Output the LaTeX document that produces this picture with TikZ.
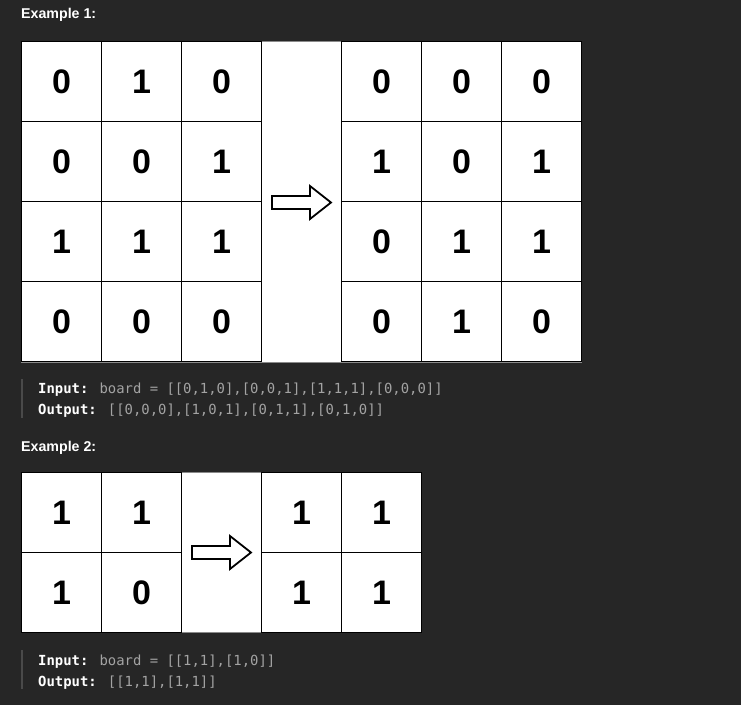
\documentclass[tikz,border=0pt]{standalone}
\usepackage{fontspec}
\setmainfont{Liberation Sans}
\newfontfamily\codefont{DejaVu Sans Mono}
\definecolor{bgc}{HTML}{262626}
\definecolor{codegray}{HTML}{A3A3A3}
\definecolor{barc}{HTML}{4A4A4A}
\definecolor{edgec}{HTML}{8A8A8A}
\tikzset{
  cell/.style={draw=black, line width=1.5pt, fill=white, minimum size=80pt, inner sep=0pt, outer sep=0pt,
    font=\fontsize{34}{34}\selectfont\bfseries, text=black},
  board/.style={fill=white, draw=edgec, line width=0.8pt},
  arrowshape/.style={draw=black, fill=white, line width=1.8pt, line join=miter},
  title/.style={anchor=base west, inner sep=0pt, text=white, font=\fontsize{14.2}{14.2}\selectfont\bfseries},
  code/.style={anchor=base west, inner sep=0pt, text=white, font=\codefont\fontsize{13.9}{13.9}\selectfont},
  bar/.style={draw=barc, line width=2pt}
}
\begin{document}
\begin{tikzpicture}[x=1pt,y=-1pt]
\fill[bgc] (0,0) rectangle (741,705);
\useasboundingbox (0,0) rectangle (741,705);

% Example 1
\node[title] (t1) at (21,18.5) {Example 1:};
\draw[board] (21,41) rectangle (581.5,362);
\foreach \row [count=\r] in {{0,1,0},{0,0,1},{1,1,1},{0,0,0}} {
  \foreach \v [count=\c] in \row {
    \node[cell] (ia-\r-\c) at ({21.5+80*\c-40},{41.5+80*\r-40}) {\v};
  }
}
\foreach \row [count=\r] in {{0,0,0},{1,0,1},{0,1,1},{0,1,0}} {
  \foreach \v [count=\c] in \row {
    \node[cell] (oa-\r-\c) at ({341.5+80*\c-40},{41.5+80*\r-40}) {\v};
  }
}
\draw[arrowshape] (272,196) -- (310,196) -- (310,186) -- (331,202.5) -- (310,219) -- (310,209) -- (272,209) -- cycle;

\draw[bar] (22,379) -- (22,418);
\node[code] (in1) at (38,393.5) {\textbf{Input:} \textcolor{codegray}{board = [[0,1,0],[0,0,1],[1,1,1],[0,0,0]]}};
\node[code] (out1) at (38,414.5) {\textbf{Output:} \textcolor{codegray}{[[0,0,0],[1,0,1],[0,1,1],[0,1,0]]}};

% Example 2
\node[title] (t2) at (21,451) {Example 2:};
\draw[board] (21,472) rectangle (421.5,632.5);
\foreach \row [count=\r] in {{1,1},{1,0}} {
  \foreach \v [count=\c] in \row {
    \node[cell] (ib-\r-\c) at ({21.5+80*\c-40},{472.5+80*\r-40}) {\v};
  }
}
\foreach \row [count=\r] in {{1,1},{1,1}} {
  \foreach \v [count=\c] in \row {
    \node[cell] (ob-\r-\c) at ({261.5+80*\c-40},{472.5+80*\r-40}) {\v};
  }
}
\draw[arrowshape] (192,546) -- (230,546) -- (230,536) -- (251,552.5) -- (230,569) -- (230,559) -- (192,559) -- cycle;

\draw[bar] (22,650) -- (22,689);
\node[code] (in2) at (38,665) {\textbf{Input:} \textcolor{codegray}{board = [[1,1],[1,0]]}};
\node[code] (out2) at (38,686) {\textbf{Output:} \textcolor{codegray}{[[1,1],[1,1]]}};
\end{tikzpicture}
\end{document}
